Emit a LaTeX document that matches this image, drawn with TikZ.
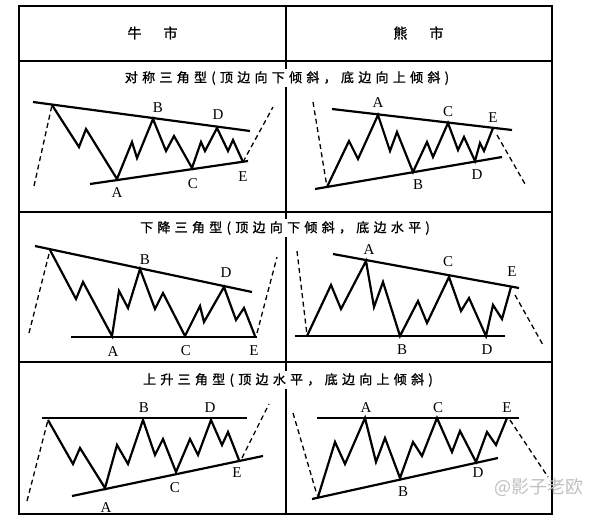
\documentclass[tikz,border=0pt]{standalone}
\usepackage{fontspec}
\setmainfont{Liberation Serif}
\newfontfamily\cjk[LetterSpace=33,FakeBold=1.2]{Noto Sans CJK SC}
\newfontfamily\cjkh[FakeBold=1.2]{Noto Sans CJK SC}
\newfontfamily\cjkw{Noto Sans CJK SC}
\begin{document}
\begin{tikzpicture}[x=1pt,y=-1pt,
  frame/.style={line width=1.5pt},
  trend/.style={line width=2.2pt},
  wave/.style={line width=2.2pt, line join=miter},
  ext/.style={line width=1.3pt, dash pattern=on 5pt off 3.5pt},
  lbl/.style={font=\fontsize{15}{15}\selectfont, inner sep=0pt},
  title/.style={font=\cjk\fontsize{13}{13}\selectfont, fill=white, inner sep=2pt},
  head/.style={font=\cjkh\fontsize{14}{14}\selectfont},
  wmark/.style={font=\cjkw\fontsize{18}{18}\selectfont, text=gray!50, inner sep=0pt}]
\useasboundingbox (0,0) rectangle (592,523);
% frame
\draw[frame] (19,6) rectangle (552,514);
\draw[frame] (19,61) -- (552,61);
\draw[frame] (19,212) -- (552,212);
\draw[frame] (19,362) -- (552,362);
\draw[frame] (286,6) -- (286,514);
% headers
\node[head] (hbull) at (152.5,33) {牛\hspace{22pt}市};
\node[head] (hbear) at (418.5,33) {熊\hspace{22pt}市};
% titles
\node[title] (t1) at (287,78) {对称三角型(顶边向下倾斜，底边向上倾斜)};
\node[title] (t2) at (285,228) {下降三角型(顶边向下倾斜，底边水平)};
\node[title] (t3) at (288,380) {上升三角型(顶边水平，底边向上倾斜)};

% ---- panel 1: bull symmetric
\draw[trend] (33,102) -- (250,131);
\draw[trend] (90,184) -- (248,161);
\draw[ext] (34,186) -- (52,105);
\draw[ext] (243,162) -- (273,107);
\draw[wave] (52,105) -- (79,147) -- (86,129) -- (117,179) -- (132,142) -- (137,158) -- (153,119) -- (166,151) -- (174,136) -- (192,168) -- (201,142) -- (205,151) -- (217,128) -- (228,151) -- (233,140) -- (243,162);
\node[lbl] (p1A) at (117,193) {A};
\node[lbl] (p1B) at (158,108) {B};
\node[lbl] (p1C) at (193,184) {C};
\node[lbl] (p1D) at (218,115) {D};
\node[lbl] (p1E) at (243,177) {E};

% ---- panel 2: bear symmetric
\draw[trend] (332,109) -- (512,130);
\draw[trend] (315,189) -- (502,157);
\draw[ext] (313,102) -- (327,187);
\draw[ext] (497,135) -- (525,184);
\draw[wave] (327,187) -- (349,141) -- (358,159) -- (378,115) -- (390,151) -- (397,132) -- (413,172) -- (427,142) -- (433,157) -- (448,123) -- (458,150) -- (464,137) -- (475,161) -- (480,143) -- (484,151) -- (493,128);
\node[lbl] (p2A) at (378,103) {A};
\node[lbl] (p2B) at (418,185) {B};
\node[lbl] (p2C) at (448,112) {C};
\node[lbl] (p2D) at (477,175) {D};
\node[lbl] (p2E) at (493,118) {E};

% ---- panel 3: bull descending
\draw[trend] (35,246) -- (252,292);
\draw[trend] (71,337) -- (257,337);
\draw[ext] (29,333) -- (50,250);
\draw[ext] (257,333) -- (277,257);
\draw[wave] (50,250) -- (76,299) -- (83,282) -- (112,336) -- (119,291) -- (128,308) -- (140,269) -- (155,309) -- (163,293) -- (185,336) -- (200,306) -- (204,322) -- (224,287) -- (236,320) -- (244,308) -- (255,336);
\node[lbl] (p3A) at (113,352) {A};
\node[lbl] (p3B) at (145,260) {B};
\node[lbl] (p3C) at (186,351) {C};
\node[lbl] (p3D) at (226,273) {D};
\node[lbl] (p3E) at (254,351) {E};

% ---- panel 4: bear descending
\draw[trend] (333,254) -- (519,288);
\draw[trend] (295,336) -- (505,336);
\draw[ext] (297,251) -- (307,335);
\draw[ext] (515,295) -- (543,345);
\draw[wave] (307,336) -- (331,285) -- (341,309) -- (366,261) -- (374,307) -- (383,282) -- (400,336) -- (418,301) -- (427,323) -- (449,277) -- (461,311) -- (469,298) -- (486,336) -- (493,305) -- (502,319) -- (511,287);
\node[lbl] (p4A) at (369,250) {A};
\node[lbl] (p4B) at (402,350) {B};
\node[lbl] (p4C) at (448,262) {C};
\node[lbl] (p4D) at (487,350) {D};
\node[lbl] (p4E) at (512,272) {E};

% ---- panel 5: bull ascending
\draw[trend] (42,418) -- (247,418);
\draw[trend] (72,496) -- (263,456);
\draw[ext] (27,501) -- (48,420);
\draw[ext] (242,458) -- (269,404);
\draw[wave] (48,420) -- (73,464) -- (80,448) -- (105,488) -- (117,445) -- (128,464) -- (143,420) -- (155,455) -- (163,439) -- (176,472) -- (190,439) -- (198,455) -- (211,420) -- (222,445) -- (228,432) -- (239,460);
\node[lbl] (p5A) at (106,508) {A};
\node[lbl] (p5B) at (144,408) {B};
\node[lbl] (p5C) at (175,488) {C};
\node[lbl] (p5D) at (210,408) {D};
\node[lbl] (p5E) at (237,473) {E};

% ---- panel 6: bear ascending
\draw[trend] (317,418) -- (519,418);
\draw[trend] (312,499) -- (498,458);
\draw[ext] (293,413) -- (317,495);
\draw[ext] (510,420) -- (548,477);
\draw[wave] (318,497) -- (335,442) -- (345,464) -- (365,418) -- (376,462) -- (385,438) -- (400,478) -- (413,442) -- (422,456) -- (437,418) -- (452,452) -- (460,431) -- (476,462) -- (487,432) -- (496,445) -- (507,418);
\node[lbl] (p6A) at (366,408) {A};
\node[lbl] (p6B) at (403,492) {B};
\node[lbl] (p6C) at (438,408) {C};
\node[lbl] (p6D) at (478,473) {D};
\node[lbl] (p6E) at (507,408) {E};

% watermark
\node[wmark, anchor=west] (wm) at (494,487) {@影子老欧};
\end{tikzpicture}
\end{document}
